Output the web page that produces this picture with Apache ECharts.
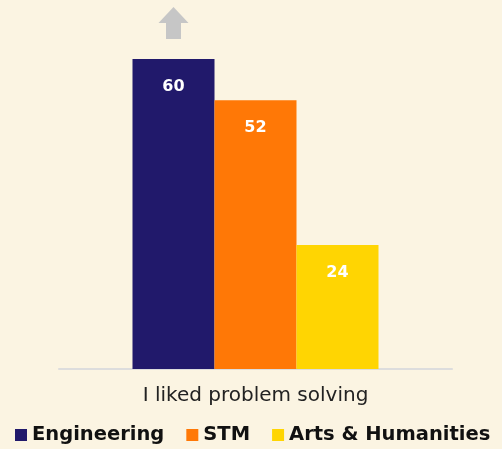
<!DOCTYPE html>
<html><head><meta charset="utf-8">
<script src="https://cdn.jsdelivr.net/npm/echarts@6/dist/echarts.min.js"></script>
<style>html,body{margin:0;padding:0;background:#fbf4e2;}#c{width:502px;height:449px;}</style>
</head><body><div id="c"></div>
<script>
const categories = ['I liked problem solving'];
const seriesNames = ['Engineering', 'STM', 'Arts & Humanities'];
const engineering = [60];
const stm = [52];
const arts = [24];
const colors = ['#21196b', '#ff7806', '#ffd502'];
const FONT = '"DejaVu Sans", sans-serif';
const chart = echarts.init(document.getElementById('c'));
const values = [engineering, stm, arts];
chart.setOption({
  backgroundColor: '#fbf4e2',
  animation: false,
  legend: {
    bottom: -1, left: 10, itemWidth: 12, itemHeight: 12, itemGap: 22,
    icon: 'rect',
    textStyle: {fontFamily: FONT, fontWeight: 'bold', fontSize: 19.5, color: '#111', padding: [0,0,0,0]},
    data: seriesNames
  },
  grid: {left: 59, right: 50, top: 59, bottom: 80},
  xAxis: {
    type: 'category', data: categories,
    axisLine: {lineStyle: {color: '#dddddd', width: 2}},
    axisTick: {show: false},
    axisLabel: {fontFamily: FONT, fontSize: 20, color: '#222', margin: 17}
  },
  yAxis: {type: 'value', min: 0, max: 60, show: false, splitLine: {show: false}},
  series: values.map((v, i) => ({
    name: seriesNames[i], type: 'bar', data: v, barWidth: 82, barGap: '0%',
    itemStyle: {color: colors[i]},
    label: {show: true, position: 'insideTop', distance: 20, color: '#fff',
      fontFamily: FONT, fontWeight: 'bold', fontSize: 16},
    markPoint: i === 0 ? {
      symbol: 'path://M0,8 L8,0 L16,8 L12,8 L12,16 L4,16 L4,8 Z',
      symbolSize: [30, 32], symbolOffset: [0, -36],
      itemStyle: {color: '#c6c6c6'}, label: {show: false},
      data: [{coord: [0, v[0]]}]
    } : undefined
  }))
});
</script></body></html>
